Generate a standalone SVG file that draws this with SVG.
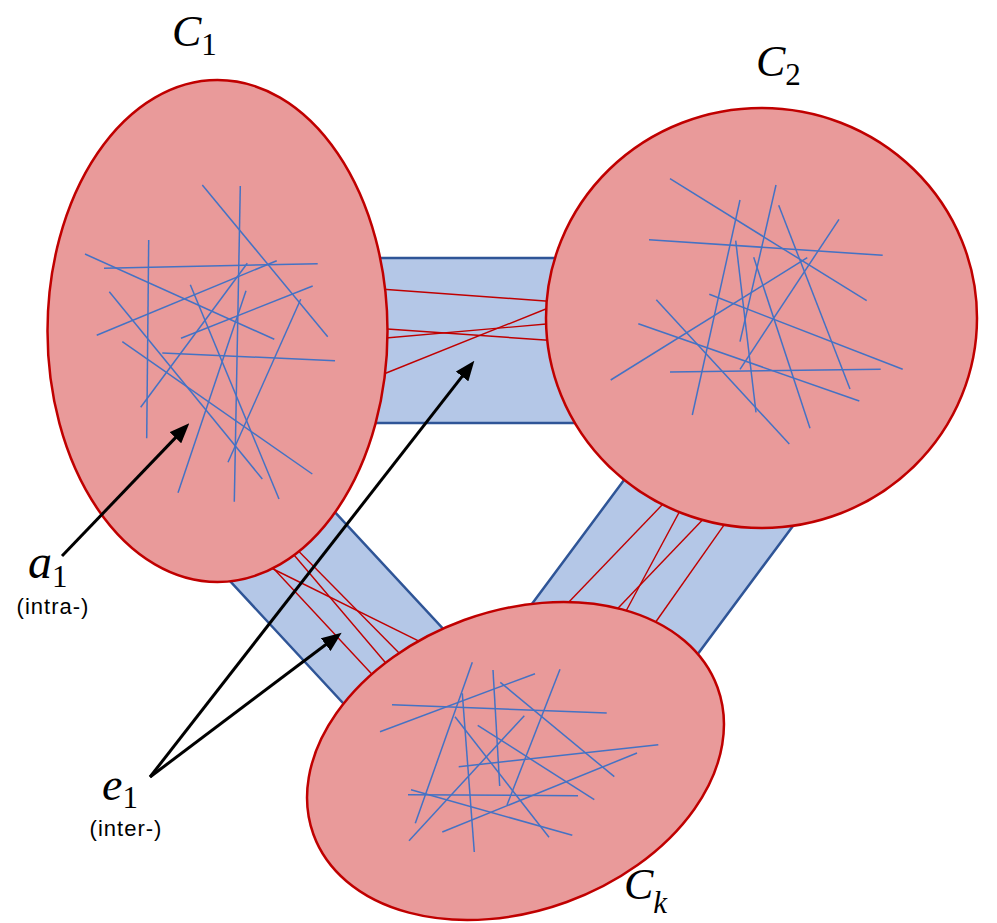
<svg xmlns="http://www.w3.org/2000/svg" width="997" height="923" viewBox="0 0 997 923">
<style>
.band{fill:#B4C7E7;stroke:#2F5597;stroke-width:2.5}
.inter{stroke:#C00000;stroke-width:1.4;fill:none}
.cl{fill:#E99A9A;stroke:#C00000;stroke-width:2.5}
.intra{stroke:#4472C4;stroke-width:1.5;fill:none}
.arr{stroke:#000;stroke-width:3;fill:none;marker-end:url(#ah)}
.m{font-family:"Liberation Serif",serif;font-style:italic;fill:#000}
.s{font-family:"Liberation Serif",serif;font-style:normal;fill:#000}
.t{font-family:"Liberation Sans",Arial,sans-serif;font-size:22px;letter-spacing:1px;text-anchor:middle;fill:#000}
</style>
<defs>
<marker id="ah" markerUnits="userSpaceOnUse" viewBox="0 0 20 16" markerWidth="20" markerHeight="16" refX="4" refY="8" orient="auto">
<path d="M0,0 L20,8 L0,16 z" fill="#000"/>
</marker>
</defs>
<g id="connectors">
<g id="band-c1-c2">
<rect class="band" x="300" y="258" width="350" height="165"/>
<line class="inter" x1="380" y1="289" x2="552" y2="301.5"/>
<line class="inter" x1="380" y1="328.5" x2="552" y2="340.5"/>
<line class="inter" x1="380" y1="338.5" x2="552" y2="323.5"/>
<line class="inter" x1="380" y1="375.5" x2="552" y2="306.5"/>
</g>
<g id="band-c1-ck">
<polygon class="band" points="191,539 368,730 459,646 282,455"/>
<line class="inter" x1="266" y1="565.5" x2="426" y2="644.7"/>
<line class="inter" x1="271" y1="565.7" x2="375.7" y2="678.3"/>
<line class="inter" x1="290" y1="550.3" x2="390" y2="668"/>
<line class="inter" x1="296" y1="548.6" x2="404" y2="658"/>
</g>
<g id="band-c2-ck">
<polygon class="band" points="497,651 682,402 813,499 628,748"/>
<line class="inter" x1="566.5" y1="604.4" x2="667" y2="499.8"/>
<line class="inter" x1="625.5" y1="612" x2="682" y2="507"/>
<line class="inter" x1="616" y1="610.2" x2="706" y2="516.2"/>
<line class="inter" x1="655" y1="623" x2="728" y2="519.3"/>
</g>
</g>
<g id="C1">
<ellipse class="cl" cx="217.5" cy="331" rx="170" ry="251"/>
<g class="intra">
<line x1="202.3" y1="185" x2="327.7" y2="336.7"/>
<line x1="240.3" y1="186" x2="234.3" y2="501.7"/>
<line x1="148.7" y1="240" x2="146.7" y2="438.3"/>
<line x1="85" y1="254" x2="274.3" y2="339.3"/>
<line x1="104" y1="268.3" x2="317.7" y2="263.7"/>
<line x1="96.7" y1="335.3" x2="276.7" y2="260.7"/>
<line x1="109.3" y1="291.7" x2="262.3" y2="479"/>
<line x1="247.3" y1="263.3" x2="140.7" y2="407.3"/>
<line x1="190.3" y1="284.7" x2="279" y2="499"/>
<line x1="246" y1="290.7" x2="178" y2="492.7"/>
<line x1="312.7" y1="286" x2="181" y2="338.3"/>
<line x1="300.7" y1="299.3" x2="228" y2="462.3"/>
<line x1="162.3" y1="353" x2="335" y2="360.7"/>
<line x1="122.3" y1="341.7" x2="312.3" y2="474"/>
</g>
</g>
<g id="C2">
<ellipse class="cl" cx="761.5" cy="318" rx="215.5" ry="210"/>
<g class="intra">
<line x1="670" y1="178.7" x2="866.7" y2="300.7"/>
<line x1="740" y1="200" x2="692.3" y2="415"/>
<line x1="776" y1="185" x2="740" y2="341.7"/>
<line x1="778.7" y1="205.3" x2="850" y2="389"/>
<line x1="649" y1="239.7" x2="882.7" y2="255.3"/>
<line x1="735.7" y1="240.7" x2="756" y2="412.3"/>
<line x1="839" y1="219.3" x2="740" y2="369.3"/>
<line x1="807.3" y1="257.7" x2="610.7" y2="380"/>
<line x1="753.7" y1="257.3" x2="810" y2="428.3"/>
<line x1="709.3" y1="294.3" x2="902.7" y2="369.3"/>
<line x1="656.3" y1="299.7" x2="789.3" y2="444"/>
<line x1="638.3" y1="323.7" x2="859.3" y2="401"/>
<line x1="670" y1="372" x2="880.7" y2="369.3"/>
</g>
</g>
<g id="Ck">
<ellipse class="cl" cx="515.5" cy="761" rx="215" ry="150" transform="rotate(-20 515.5 761)"/>
<g class="intra">
<line x1="472.3" y1="662.3" x2="415.3" y2="823.3"/>
<line x1="493" y1="670" x2="499.7" y2="786"/>
<line x1="535" y1="673.7" x2="380" y2="731.7"/>
<line x1="560" y1="669.3" x2="507" y2="805"/>
<line x1="500.3" y1="682.3" x2="614.3" y2="776.7"/>
<line x1="392" y1="704.7" x2="606.7" y2="713"/>
<line x1="462.3" y1="693.3" x2="474.3" y2="852"/>
<line x1="455" y1="716.7" x2="549" y2="837.3"/>
<line x1="524.3" y1="715.7" x2="409" y2="840.7"/>
<line x1="477.7" y1="725.3" x2="594.3" y2="799.7"/>
<line x1="458.7" y1="766.7" x2="658.3" y2="744.7"/>
<line x1="637" y1="753" x2="442.3" y2="832"/>
<line x1="408" y1="794.7" x2="578" y2="795.7"/>
<line x1="411" y1="789.7" x2="572.3" y2="835.3"/>
</g>
</g>
<g id="arrows">
<line class="arr" x1="62" y1="556" x2="178.2" y2="434.9"/>
<line class="arr" x1="150" y1="777" x2="464.5" y2="373.3"/>
<line class="arr" x1="150" y1="777" x2="328.9" y2="642.3"/>
</g>
<g id="labels">
<text class="m" x="172" y="46" font-size="44">C<tspan class="s" font-size="31" dy="9">1</tspan></text>
<text class="m" x="756" y="76" font-size="44">C<tspan class="s" font-size="31" dy="9">2</tspan></text>
<text class="m" x="624" y="899" font-size="44">C<tspan font-size="31" dy="14">k</tspan></text>
<text class="m" x="28" y="578" font-size="48">a<tspan class="s" font-size="31" dy="9">1</tspan></text>
<text class="t" x="53" y="614">(intra-)</text>
<text class="m" x="102" y="800" font-size="46">e<tspan class="s" font-size="31" dy="8">1</tspan></text>
<text class="t" x="126" y="836">(inter-)</text>
</g>
</svg>
